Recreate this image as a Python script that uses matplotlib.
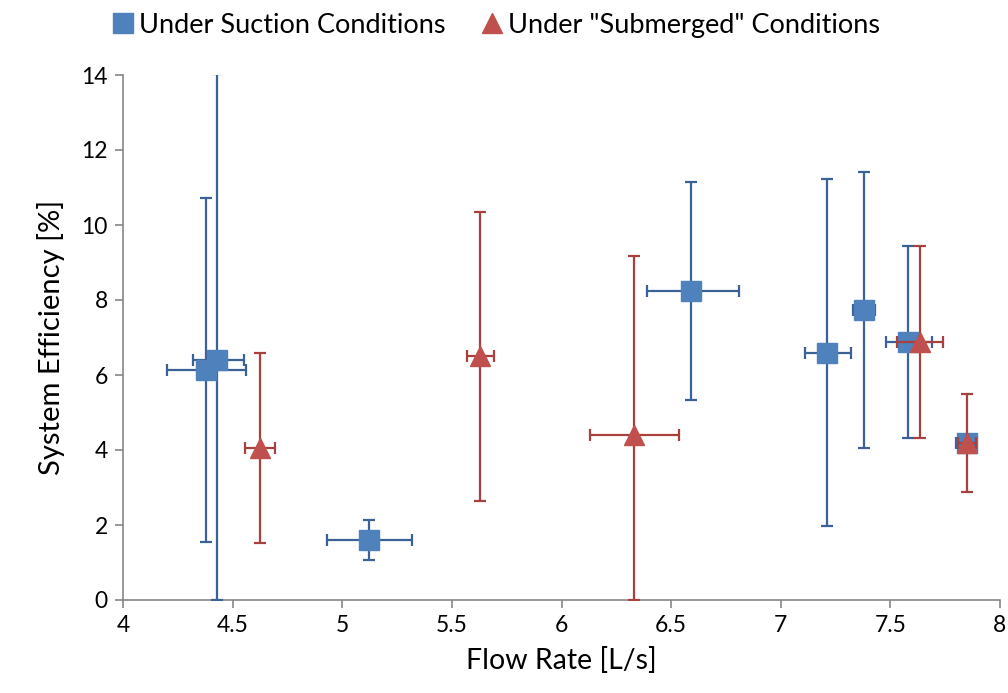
import matplotlib.pyplot as plt
from matplotlib.lines import Line2D

plt.rcParams['font.family'] = ['Lato', 'DejaVu Sans']

# suction runs
suc_q = [4.38, 4.43, 5.12, 6.59, 7.21, 7.38, 7.58, 7.85]
suc_eff = [6.13, 6.40, 1.60, 8.24, 6.59, 7.73, 6.88, 4.20]
suc_q_lo = [4.20, 4.32, 4.93, 6.39, 7.11, 7.33, 7.48, 7.80]
suc_q_hi = [4.56, 4.55, 5.32, 6.81, 7.32, 7.43, 7.69, 7.89]
suc_eff_lo = [1.55, 0.00, 1.07, 5.33, 1.97, 4.05, 4.32, 4.00]
suc_eff_hi = [10.72, 14.03, 2.13, 11.15, 11.22, 11.42, 9.43, 4.40]

# submerged runs
sub_q = [4.625, 5.63, 6.33, 7.635, 7.85]
sub_eff = [4.05, 6.50, 4.40, 6.88, 4.20]
sub_q_lo = [4.556, 5.57, 6.13, 7.53, 7.81]
sub_q_hi = [4.693, 5.69, 6.535, 7.74, 7.89]
sub_eff_lo = [1.52, 2.63, 0.00, 4.32, 2.88]
sub_eff_hi = [6.58, 10.35, 9.18, 9.43, 5.49]

blue, blue_err = '#4F81BD', '#3A6296'
red, red_err = '#C0504D', '#A8403D'


def errs(c, lo, hi):
    return [[a - b for a, b in zip(c, lo)], [b - a for a, b in zip(c, hi)]]


fig = plt.figure(figsize=(10.08, 6.93), dpi=100)
ax = fig.add_axes([123 / 1008, 93 / 693, 877 / 1008, 525 / 693])

ax.errorbar(suc_q, suc_eff, xerr=errs(suc_q, suc_q_lo, suc_q_hi),
            yerr=errs(suc_eff, suc_eff_lo, suc_eff_hi),
            fmt='s', ms=14, color=blue, mec=blue,
            ecolor=blue_err, elinewidth=1.6, capsize=4.5, capthick=1.6,
            zorder=3)
ax.errorbar(sub_q, sub_eff, xerr=errs(sub_q, sub_q_lo, sub_q_hi),
            yerr=errs(sub_eff, sub_eff_lo, sub_eff_hi),
            fmt='^', ms=15, color=red, mec=red,
            ecolor=red_err, elinewidth=1.6, capsize=4.5, capthick=1.6,
            zorder=4)

ax.set_xlim(4, 8)
ax.set_ylim(0, 14)
ax.set_xticks([4, 4.5, 5, 5.5, 6, 6.5, 7, 7.5, 8])
ax.set_xticklabels(['4', '4.5', '5', '5.5', '6', '6.5', '7', '7.5', '8'])
ax.set_yticks(range(0, 15, 2))
ax.tick_params(labelsize=16.5, color='#868686', length=6, width=1.2, pad=5)
for s in ['top', 'right']:
    ax.spines[s].set_visible(False)
for s in ['left', 'bottom']:
    ax.spines[s].set_color('#868686')
    ax.spines[s].set_linewidth(1.2)

ax.set_xlabel('Flow Rate [L/s]', fontsize=20.5, labelpad=8)
ax.set_ylabel('System Efficiency [%]', fontsize=21, labelpad=12)

handles = [Line2D([], [], ls='none', marker='s', ms=14, color=blue),
           Line2D([], [], ls='none', marker='^', ms=15, color=red)]
fig.legend(handles, ['Under Suction Conditions', 'Under "Submerged" Conditions'],
           loc='upper center', bbox_to_anchor=(0.491, 1.017), ncol=2,
           frameon=False, fontsize=19.5, handletextpad=0.1,
           columnspacing=1.2, handlelength=1)

fig.savefig('out.png', dpi=100)
